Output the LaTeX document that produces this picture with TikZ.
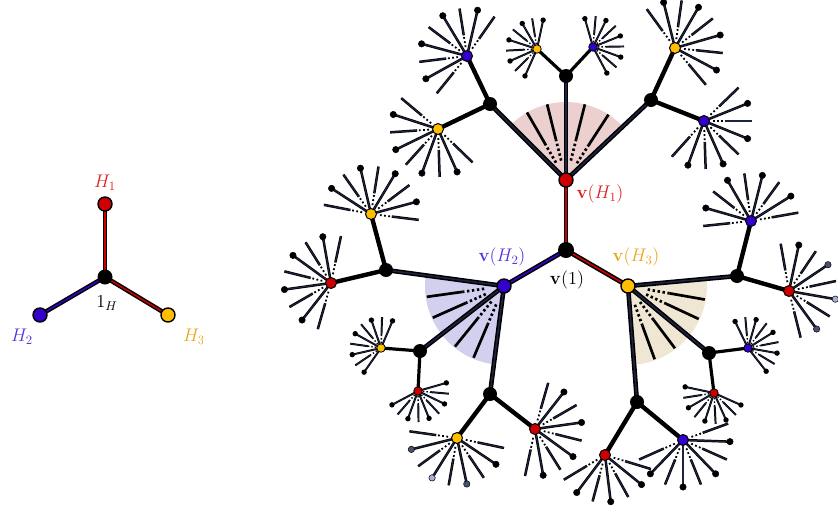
\documentclass[tikz,border=0pt]{standalone}
\usetikzlibrary{calc}
\definecolor{cred}{HTML}{CC0000}
\definecolor{cblue}{HTML}{3300CC}
\definecolor{cyel}{HTML}{FFBF00}
\definecolor{lred}{HTML}{E02020}
\definecolor{lblue}{HTML}{5A30E0}
\definecolor{lyel}{HTML}{E6A817}
\definecolor{navy}{HTML}{1E2340}
\definecolor{slate}{HTML}{4A5274}
\definecolor{pale}{HTML}{A8B0D8}
\definecolor{wpink}{HTML}{ECCFCF}
\definecolor{wblue}{HTML}{D3CFEE}
\definecolor{wbeige}{HTML}{EFE7D4}
\tikzset{
 spk/.style={line width=0.7pt, double=navy, double distance=1.1pt},
 sspk/.style={line width=0.55pt, double=navy, double distance=0.85pt},
 spkd/.style={line width=1.8pt, dash pattern=on 1.8pt off 2.4pt},
 sspkd/.style={line width=1.4pt, dash pattern=on 1.4pt off 2pt},
 trunk/.style={line width=1.5pt, double=navy, double distance=1.6pt},
 bough/.style={line width=4.4pt},
 twig/.style={line width=3.2pt},
 wspk/.style={line width=2.7pt},
 wspkd/.style={line width=2.7pt, dash pattern=on 2.4pt off 2.6pt},
 blk/.style={circle, fill=black, inner sep=0pt, minimum size=14pt},
 cnode/.style={circle, draw=black, line width=1.4pt, inner sep=0pt, minimum size=14pt},
 leaf/.style={circle, draw=black, line width=1pt, inner sep=0pt, minimum size=11pt},
 sleaf/.style={circle, draw=black, line width=0.8pt, inner sep=0pt, minimum size=8.5pt},
 lbl/.style={font=\Large, scale=1.27, inner sep=1pt},
}
% lines of a big fan
\newcommand\flines[3]{%
 \foreach \k in {#3}{%
  \pgfmathsetmacro\ang{#2+22*\k}%
  \draw[spkd] (#1) ++(\ang:9) -- ++(\ang:11);
  \draw[spk] (#1) ++(\ang:21) -- ++(\ang:27);}}
% dotted-end spokes of a big fan
\newcommand\fdots[3]{%
 \foreach \k/\dc in {#3}{%
  \pgfmathsetmacro\ang{#2+22*\k}%
  \draw[spk] (#1) -- ++(\ang:45);
  \filldraw[fill=\dc, draw=black, line width=0.5pt] (#1) ++(\ang:47) circle (3.2);}}
\newcommand\bigfan[2]{%
 \flines{#1}{#2}{-4,-2,0,2,4}%
 \fdots{#1}{#2}{-3/black,-1/black,1/black,3/black}}
\newcommand\smallfan[2]{%
 \foreach \k in {-4,...,4}{%
  \pgfmathsetmacro\ang{#2+21*\k}%
  \ifodd\k\relax
    \draw[sspkd] (#1) ++(\ang:5) -- ++(\ang:8);
    \draw[sspk] (#1) ++(\ang:13) -- ++(\ang:18);
  \else
    \draw[sspk] (#1) -- ++(\ang:28);
    \fill (#1) ++(\ang:29.5) circle (2.7);
  \fi}}
\newcommand\wspokes[2]{%
 \foreach \ang in {#2}{%
   \draw[wspkd] (#1) ++(\ang:20) -- ++(\ang:22);
   \draw[wspk] (#1) ++(\ang:42) -- ++(\ang:36);
 }}
\begin{document}
\begin{tikzpicture}[x=1pt,y=1pt]
\useasboundingbox (0,0) rectangle (838,-512);
% ---------- left graph ----------
\coordinate (c) at (105,-277);
\coordinate (h1) at (105,-204);
\coordinate (h2) at (40,-315);
\coordinate (h3) at (168,-315);
\draw[line width=1.5pt, double=cred, double distance=1.5pt] (c) -- (h1);
\draw[line width=1.5pt, double=cblue, double distance=1.5pt] (c) -- (h2);
\draw[line width=1.5pt, double=cred, double distance=1.5pt] (c) -- (h3);
\node[blk, minimum size=15pt] (nc) at (c) {};
\node[cnode, fill=cred] (nh1) at (h1) {};
\node[cnode, fill=cblue] (nh2) at (h2) {};
\node[cnode, fill=cyel] (nh3) at (h3) {};
\node[lbl, text=lred] (lh1) at (105,-183) {$H_1$};
\node[lbl, text=lblue] (lh2) at (22,-337) {$H_2$};
\begin{scope}
\clip (0,0) rectangle (202,-512);
\node[lbl, text=lyel] (lh3) at (194,-337) {$H_3$};
\end{scope}
\node[lbl] (lc) at (107,-303) {$1_H$};
% ---------- big tree coordinates ----------
\coordinate (v1) at (566,-250);
\coordinate (vH1) at (566,-180);
\coordinate (vH2) at (504,-286);
\coordinate (vH3) at (628,-286);
\coordinate (B1) at (490,-104);
\coordinate (B2) at (566,-76);
\coordinate (B3) at (651,-100);
\coordinate (Y1) at (438,-129);
\coordinate (Bl1) at (467,-56);
\coordinate (Y2) at (537,-49);
\coordinate (Bl2) at (593,-47);
\coordinate (Y3) at (675,-48);
\coordinate (Bl3) at (704,-121);
\coordinate (B4) at (386,-270);
\coordinate (B5) at (420,-351);
\coordinate (B6) at (490,-394);
\coordinate (Y4) at (371,-214);
\coordinate (R4) at (331,-283);
\coordinate (Y5) at (381,-348);
\coordinate (R5) at (418,-391);
\coordinate (Y6) at (457,-438);
\coordinate (R6) at (535,-429);
\coordinate (B7) at (737,-276);
\coordinate (B8) at (709,-353);
\coordinate (B9) at (637,-402);
\coordinate (Bl7) at (751,-221);
\coordinate (R7) at (789,-291);
\coordinate (Bl8) at (748,-348);
\coordinate (R8) at (714,-393);
\coordinate (R9) at (605,-455);
\coordinate (Bl9) at (683,-440);
% ---------- wedges ----------
\fill[wpink] (vH1) -- ++(43:78) arc[start angle=43, end angle=135, radius=78] -- cycle;
\fill[wblue] (vH2) -- ++(172:79) arc[start angle=172, end angle=263, radius=79] -- cycle;
\fill[wbeige] (vH3) -- ++(-87:79) arc[start angle=-87, end angle=5, radius=79] -- cycle;
\wspokes{vH1}{57,76,104,120}
\wspokes{vH2}{188,204,231,247}
\wspokes{vH3}{-10,-25,-53,-70}
% ---------- fans ----------
\bigfan{Y1}{228}
\bigfan{Bl1}{143}
\smallfan{Y2}{162}
\smallfan{Bl2}{22}
\bigfan{Y3}{38}
\bigfan{Bl3}{-44}
\bigfan{Y4}{81}
\bigfan{R4}{166}
\smallfan{Y5}{151}
\smallfan{R5}{292}
\flines{Y6}{260}{-4,-2,0,2,4}
\fdots{Y6}{260}{-3/slate,-1/pale,1/slate,3/black}
\bigfan{R6}{-14}
\bigfan{Bl7}{98}
\flines{R7}{12}{-4,-2,0,2,4}
\fdots{R7}{12}{-3/slate,-1/pale,1/slate,3/black}
\smallfan{Bl8}{32}
\smallfan{R8}{-108}
\flines{R9}{255}{-2,0,2,4}
\fdots{R9}{255}{-1/black,1/black,3/black}
\bigfan{Bl9}{-68}
% ---------- edges ----------
\draw[line width=1.6pt, double=cred, double distance=1.6pt] (v1) -- (vH1);
\draw[line width=1.6pt, double=cblue, double distance=1.6pt] (v1) -- (vH2);
\draw[line width=1.6pt, double=cred, double distance=1.6pt] (v1) -- (vH3);
\foreach \p/\b in {vH1/B1, vH1/B2, vH1/B3, vH2/B4, vH2/B5, vH2/B6, vH3/B7, vH3/B8, vH3/B9}
  \draw[trunk] (\p) -- (\b);
\foreach \b/\l in {B1/Y1, B1/Bl1, B3/Y3, B3/Bl3, B4/Y4, B4/R4, B6/Y6, B6/R6, B7/Bl7, B7/R7, B9/R9, B9/Bl9}
  \draw[bough] (\b) -- (\l);
\foreach \b/\l in {B2/Y2, B2/Bl2, B5/Y5, B5/R5, B8/Bl8, B8/R8}
  \draw[twig] (\b) -- (\l);
% ---------- nodes ----------
\node[blk, minimum size=16pt] (nv1) at (v1) {};
\node[cnode, fill=cred] (nvH1) at (vH1) {};
\node[cnode, fill=cblue] (nvH2) at (vH2) {};
\node[cnode, fill=cyel] (nvH3) at (vH3) {};
\foreach \b in {B1,B2,B3,B4,B5,B6,B7,B8,B9}
  \node[blk] (n\b) at (\b) {};
\foreach \l/\c in {Y1/cyel, Bl1/cblue, Y3/cyel, Bl3/cblue, Y4/cyel, R4/cred, Y6/cyel, R6/cred, Bl7/cblue, R7/cred, R9/cred, Bl9/cblue}
  \node[leaf, fill=\c] (n\l) at (\l) {};
\foreach \l/\c in {Y2/cyel, Bl2/cblue, Y5/cyel, R5/cred, Bl8/cblue, R8/cred}
  \node[sleaf, fill=\c] (n\l) at (\l) {};
% ---------- labels ----------
\node[lbl, text=lred] (lvH1) at (600,-194) {$\mathbf{v}(H_1)$};
\node[lbl, text=lblue] (lvH2) at (502,-257) {$\mathbf{v}(H_2)$};
\node[lbl, text=lyel] (lvH3) at (636,-257) {$\mathbf{v}(H_3)$};
\node[lbl] (lv1) at (567,-280) {$\mathbf{v}(1)$};
\end{tikzpicture}
\end{document}
